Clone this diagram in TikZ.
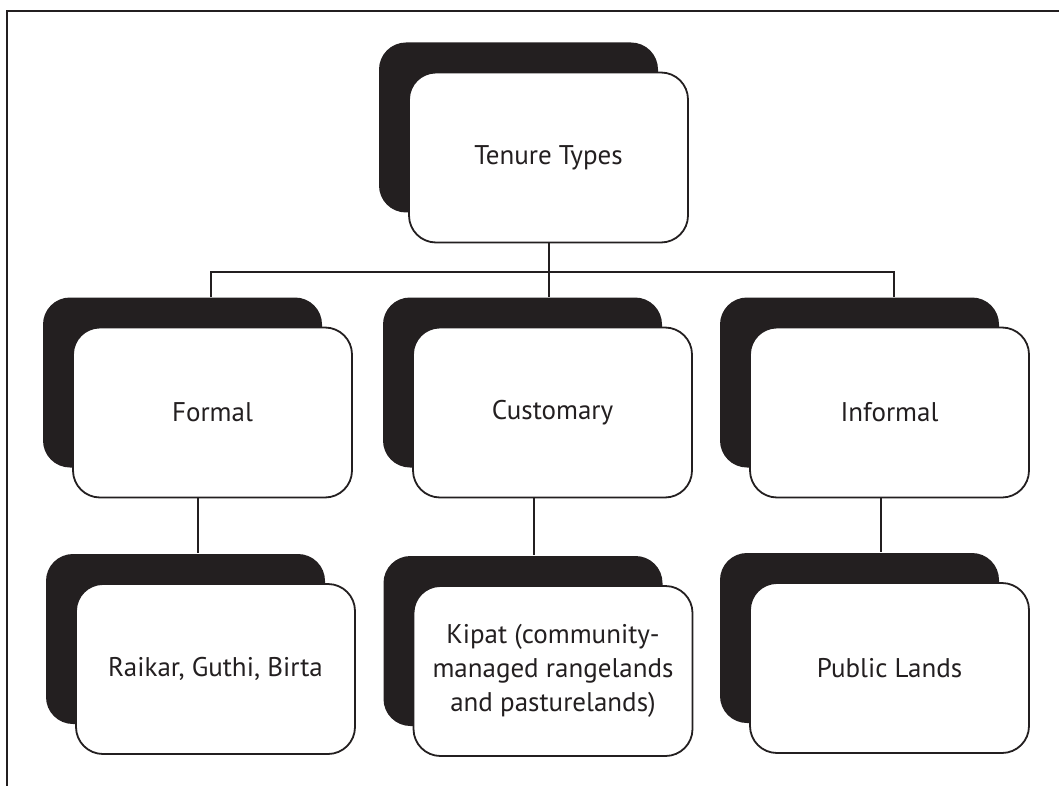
\documentclass[tikz,border=0pt]{standalone}
\usepackage{fontspec}
\setmainfont{PT Sans}
\usetikzlibrary{shadows,calc}
\definecolor{ink}{HTML}{231F20}
\begin{document}
\begin{tikzpicture}[x=1pt,y=-1pt,
  tbox/.style={draw=ink, line width=1.8pt, fill=white, rounded corners=27pt,
    minimum width=279pt, minimum height=170pt, align=center, text=ink,
    font=\fontsize{27}{34}\selectfont, inner sep=0pt,
    drop shadow={shadow xshift=-30pt, shadow yshift=30pt, fill=ink, opacity=1}},
  link/.style={draw=ink, line width=2pt}]
\useasboundingbox (0,0) rectangle (1059,786);
% frame
\draw[ink, line width=2.6pt] (1059,11) -- (7,11) -- (7,786);
% nodes
\node[tbox] (tenure) at (548.5,157.5) {Tenure Types};
\node[tbox] (formal) at (212.5,412.5) {Formal};
\node[tbox] (customary) at (552.5,412.5) {Customary};
\node[tbox] (informal) at (889.5,412.5) {Informal};
\node[tbox] (raikar) at (215.5,669) {Raikar, Guthi, Birta};
\node[tbox] (kipat) at (553,671) {Kipat (community-\\managed rangelands\\and pasturelands)};
\node[tbox] (public) at (889.5,668) {Public Lands};
% connectors
\coordinate (bar) at (0,272);
\coordinate (rowtop) at (0,297);
\draw[link] (tenure.south) -- (tenure.south |- rowtop);
\draw[link] ($(formal.north |- rowtop)+(-1.5,0)$) -- ($(formal.north |- bar)+(-1.5,0)$) -- ($(informal.north |- bar)+(4.5,0)$) -- ($(informal.north |- rowtop)+(4.5,0)$);
\draw[link] ($(formal.south)+(-14.5,0)$) -- ($(formal.south |- raikar.north)+(-14.5,-30)$);
\draw[link] ($(customary.south)+(-18.5,0)$) -- ($(customary.south |- kipat.north)+(-18.5,-30)$);
\draw[link] ($(informal.south)+(-8.5,0)$) -- ($(informal.south |- public.north)+(-8.5,-30)$);
\end{tikzpicture}
\end{document}
